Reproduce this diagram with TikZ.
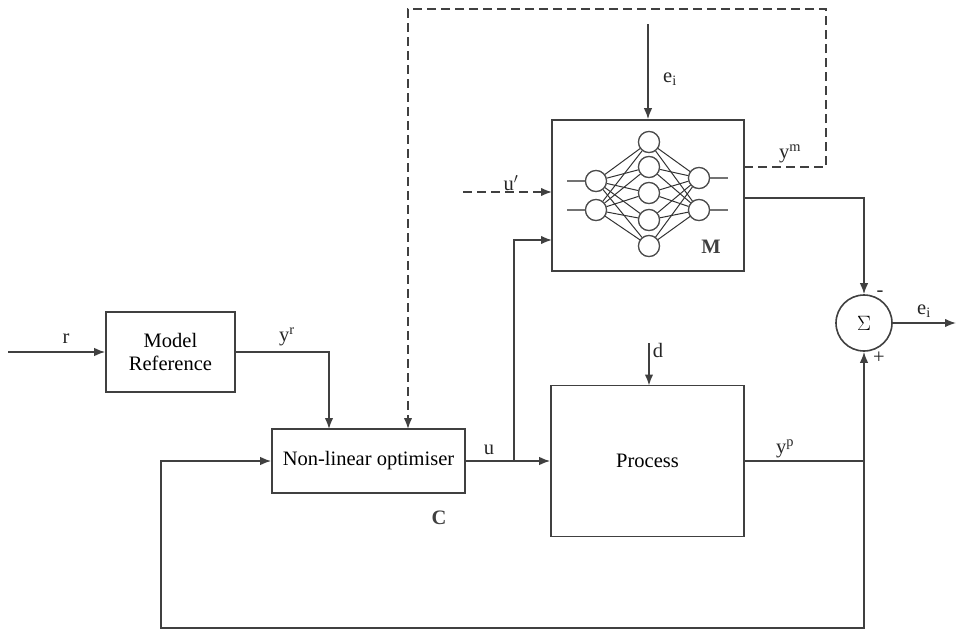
\documentclass[tikz,border=0pt]{standalone}
\usepackage{fontspec}
\setmainfont{Liberation Serif}
\usetikzlibrary{arrows.meta,calc}
\begin{document}
\begin{tikzpicture}[x=1pt,y=-1pt,
  ln/.style={draw=black!75,line width=1.6pt},
  arr/.style={ln,-{Latex[length=11pt,width=8.5pt]}},
  blk/.style={ln,rectangle,inner sep=0pt,font=\fontsize{20.5}{24}\selectfont},
  lbl/.style={font=\fontsize{20.5}{24}\selectfont,text=black!85,inner sep=0pt},
  neur/.style={circle,draw=black!70,line width=1.2pt,minimum size=21pt,inner sep=0pt,fill=white},
  wire/.style={draw=black!80,line width=1pt}]
\useasboundingbox (0,0) rectangle (956,630);
% blocks
\node[blk,minimum width=129pt,minimum height=80pt,align=center] (mr) at (170.5,352) {Model\\[-1pt]Reference};
\node[blk,minimum width=193pt,minimum height=64pt] (opt) at (368.5,461) {Non-linear optimiser};
\node[blk,minimum width=193pt,minimum height=151pt] (proc) at (647.5,461) {Process};
\node[blk,minimum width=192pt,minimum height=151pt] (M) at (648,195.5) {};
\node[ln,circle,minimum size=56pt,inner sep=0pt,font=\fontsize{21}{24}\selectfont] (sum) at (864,323) {$\Sigma$};
% neural network
\foreach \n/\y in {1/181,2/210} \node[neur] (in\n) at (596,\y) {};
\foreach \n/\y in {1/142,2/167,3/193,4/220,5/246} \node[neur] (h\n) at (649,\y) {};
\foreach \n/\y in {1/178,2/210} \node[neur] (o\n) at (699,\y) {};
\foreach \i in {1,2}{\foreach \j in {1,...,5}{\draw[wire] (in\i) -- (h\j); \draw[wire] (h\j) -- (o\i);}}
\foreach \i in {1,2}{\node[neur] at (in\i) {}; \node[neur] at (o\i) {};}
\foreach \j in {1,...,5}{\node[neur] at (h\j) {};}
\foreach \i/\y in {1/181,2/210}{\draw[draw=black!55,line width=1.2pt] (567,\y) -- (in\i.west);}
\foreach \i/\y in {1/178,2/210}{\draw[draw=black!55,line width=1.2pt] (o\i.east) -- (728,\y);}
\node[lbl,font=\fontsize{20.5}{24}\selectfont\bfseries,text=black!75] (Mlab) at (711,247) {M};
% coordinates
\coordinate (rin) at (8,352);
\coordinate (yrc) at (329,429);
\coordinate (dtop) at (408,9);
\coordinate (dcorner) at (826,9);
\coordinate (ymout) at (744,167);
\coordinate (ymc) at (826,167);
\coordinate (doptin) at (408,429);
\coordinate (ubr) at (514,461);
\coordinate (umin) at (552,240);
\coordinate (upst) at (463,192);
\coordinate (upin) at (552,192);
\coordinate (etop) at (648,24);
\coordinate (mout) at (744,198);
\coordinate (dsrc) at (649,343);
\coordinate (dproc) at (649,385.5);
\coordinate (ypj) at (864,461);
\coordinate (fb1) at (864,628);
\coordinate (fb2) at (161,628);
\coordinate (fb3) at (161,461);
\coordinate (eout) at (956,323);
% connectors
\draw[arr] (rin) -- (mr.west);
\draw[arr] (mr.east) -| (yrc);
\draw[arr,dashed,dash pattern=on 9pt off 5pt] (ymout) -- (ymc) -- (dcorner) -- (dtop) -- (doptin);
\draw[arr] (opt.east) -- (proc.west);
\draw[arr] (ubr) |- (umin);
\draw[arr,dashed,dash pattern=on 9pt off 5pt] (upst) -- (upin);
\draw[arr] (etop) -- (M.north);
\draw[arr] (mout) -| (sum.north);
\draw[arr] (dsrc) -- (dproc);
\draw[arr] (ypj) -- (sum.south);
\draw[arr] (proc.east) -- (ypj) -- (fb1) -- (fb2) -- (fb3) -- (opt.west);
\draw[arr] (sum.east) -- (eout);
% labels
\node[lbl] (lr) at (66,339) {r};
\node[lbl] (lyr) at (287,337) {y$^{\mathrm{r}}$};
\node[lbl] (lu) at (489,450) {u};
\node[lbl,font=\fontsize{20.5}{24}\selectfont\bfseries,text=black!75] (lC) at (439,518) {C};
\node[lbl] (lup) at (511,183) {u$'$};
\node[lbl] (lym) at (790,154) {y$^{\mathrm{m}}$};
\node[lbl] (lei) at (670,79) {e$_{\mathrm{i}}$};
\node[lbl] (ld) at (658,350) {d};
\node[lbl] (lyp) at (785,449) {y$^{\mathrm{p}}$};
\node[lbl] (lminus) at (880,294) {-};
\node[lbl] (lplus) at (879,358) {+};
\node[lbl] (leo) at (924,311) {e$_{\mathrm{i}}$};
\end{tikzpicture}
\end{document}
